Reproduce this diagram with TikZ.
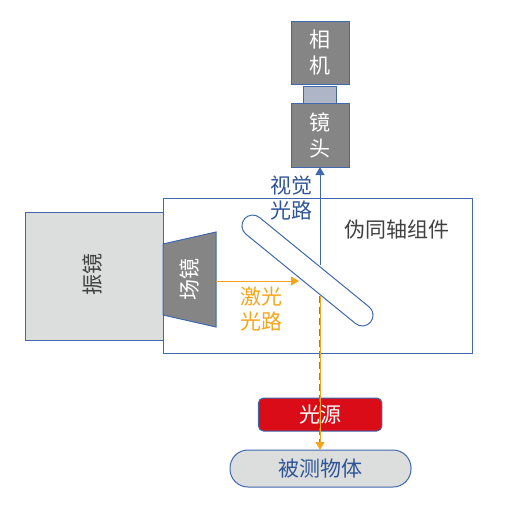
\documentclass[tikz,border=0pt]{standalone}
\usepackage{fontspec}
\setmainfont{Noto Sans CJK SC}
\usetikzlibrary{arrows.meta}
\definecolor{edgeblue}{HTML}{3F68AE}
\definecolor{textblue}{HTML}{2F5597}
\definecolor{darkbox}{HTML}{858585}
\definecolor{lightbox}{HTML}{DCDDDD}
\definecolor{slatebox}{HTML}{ADB5C6}
\definecolor{laser}{HTML}{F8A51B}
\definecolor{redbox}{HTML}{D90C18}
\definecolor{darktext}{HTML}{404040}
\tikzset{
  every node/.style={inner sep=0pt,outer sep=0pt},
  box/.style={draw=edgeblue,line width=1pt,minimum width=#1,anchor=north west},
  darkcell/.style={box=58pt,fill=darkbox,minimum height=63.5pt,text=white,font=\fontsize{21}{25.5}\selectfont,align=center},
  bluepath/.style={draw=edgeblue,line width=1pt,-{Triangle[length=8pt,width=9pt]}},
  laserpath/.style={draw=laser,line width=1pt,-{Triangle[length=8pt,width=9pt]}},
  lab/.style={font=\fontsize{21}{25}\selectfont,align=center}
}
\begin{document}
\begin{tikzpicture}[x=1pt,y=-1pt]
\useasboundingbox (0,0) rectangle (506,512);
% housing
\node[box=309pt,minimum height=155pt] (housing) at (163,198) {};
% galvo
\node[box=138pt,fill=lightbox,minimum height=128pt] (galvo) at (25,212) {};
\node[lab,text=darktext,rotate=90] (galvolab) at (92,274) {振镜};
% field lens
\filldraw[draw=edgeblue,fill=darkbox,line width=1pt] (163,244) -- (216,232) -- (216,327) -- (163,315) -- cycle;
\node[lab,text=white,rotate=90] (fieldlab) at (189,279) {场镜};
\coordinate (fieldout) at (216,281);
% camera stack
\node[box=33.5pt,fill=slatebox,minimum height=17pt] (mount) at (303,86.5) {};
\node[darkcell] (camera) at (291,21) {相\\机};
\node[darkcell] (lens) at (291,103.5) {镜\\头};
% mirror
\node[draw=edgeblue,line width=1pt,fill=white,minimum width=163pt,minimum height=21.5pt,rounded corners=10.75pt,rotate=-39.2] (mirror) at (307.5,270.5) {};
\coordinate (mirrorhit) at (320,265);
\coordinate (laserhit) at (299,281);
\coordinate (laserdown) at (320,296);
\coordinate (graydown) at (319.3,296);
\coordinate (grayend) at (319.3,447);
% light source and target
\node[draw=edgeblue,line width=1pt,fill=redbox,rounded corners=5pt,minimum width=123.5pt,minimum height=33pt,text=white,font=\fontsize{21}{25}\selectfont] (source) at (320.2,414.5) {光源};
\node[draw=edgeblue,line width=1pt,fill=lightbox,rounded corners=18pt,minimum width=181pt,minimum height=37pt,text=textblue,font=\fontsize{21}{25}\selectfont] (target) at (320.5,468.5) {被测物体};
% paths
\draw[bluepath] (mirrorhit) -- (lens.south -| mirrorhit);
\draw[laserpath] (fieldout) -- (laserhit);
\draw[draw=darkbox!80!edgeblue,line width=1pt,dash pattern=on 7pt off 4pt] (graydown) -- (grayend);
\draw[laserpath] (laserdown) -- (target.north -| laserdown);
% labels
\node[lab,text=textblue] (visual) at (291,198) {视觉\\光路};
\node[lab,text=laser] (laserlab) at (261,309) {激光\\光路};
\node[lab,text=darktext] (pseudolab) at (396.5,230) {伪同轴组件};
\end{tikzpicture}
\end{document}
